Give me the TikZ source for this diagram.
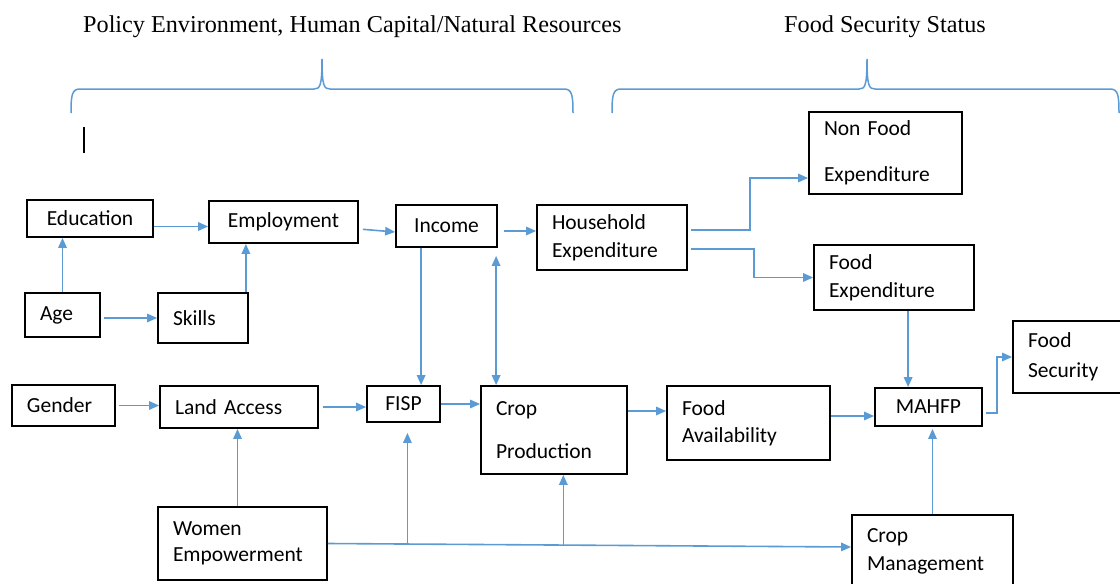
\documentclass[tikz,border=0pt]{standalone}
\usepackage{fontspec}
\setmainfont{Liberation Serif}
\newfontfamily\calibri{Carlito}
\usepackage{tikz}
\usetikzlibrary{arrows.meta, positioning, calc}

\definecolor{arrowblue}{HTML}{5B9BD5}

\begin{document}
\begin{tikzpicture}[
  x=1pt, y=-1pt,
  >={Triangle[length=10pt,width=8.5pt]},
  box/.style={draw, line width=1.8pt, inner xsep=15pt, inner ysep=0pt, align=left,
    font=\calibri\fontsize{21.5}{28}\selectfont},
  arr/.style={->, draw=arrowblue, line width=1.6pt},
  brace/.style={draw=arrowblue, line width=1.5pt},
  head/.style={font=\fontsize{24.2}{28}\selectfont, inner sep=0pt, anchor=base west},
]
  \useasboundingbox (0,0) rectangle (1120,584);
  \clip (0,0) rectangle (1120,584);

  % headings and braces
  \node[head] (policyhead) at (83,32) {Policy Environment, Human Capital/Natural Resources};
  \node[head] (statushead) at (784,32) {Food Security Status};
  \draw[brace] (71,113) .. controls (71,95) and (72,89) .. (80,89) -- (314,89)
    .. controls (320,89) and (322,86) .. (322,59) .. controls (322,86) and (324,89) .. (330,89)
    -- (564,89) .. controls (572,89) and (573,95) .. (573,113);
  \draw[brace] (612,113) .. controls (612,95) and (613,89) .. (621,89) -- (859,89)
    .. controls (865,89) and (867,86) .. (867,59) .. controls (867,86) and (869,89) .. (875,89)
    -- (1110,89) .. controls (1118,89) and (1119,95) .. (1119,113);
  \draw[line width=1.3pt] (84,127) -- (84,153);

  % boxes
  \node[box, text width=96pt, align=center, minimum height=37pt] (edu) at (90,218.5) {Education};
  \node[box, text width=119pt, align=center, minimum height=42pt] (emp) at (283.5,222) {Employment};
  \node[box, text width=45pt, minimum height=44pt] (age) at (62.5,315) {Age};
  \node[box, text width=60pt, minimum height=50pt] (skills) at (203,318) {Skills};
  \node[box, text width=71pt, align=center, minimum height=42pt] (inc) at (446.5,226) {Income};
  \node[box, text width=120pt, minimum height=65pt] (hh) at (612,237.5) {Household\\Expenditure};
  \node[box, text width=123pt, minimum height=82pt] (nonfood) at (885.5,153) {Non Food\\[18pt]Expenditure};
  \node[box, text width=130pt, minimum height=65pt] (foodexp) at (894,277.5) {Food\\Expenditure};
  \node[box, text width=73pt, minimum height=41pt] (gender) at (63.5,405.5) {Gender};
  \node[box, text width=128pt, minimum height=42pt] (land) at (239,407) {Land Access};
  \node[box, text width=43pt, align=center, minimum height=36pt] (fisp) at (403.5,404) {FISP};
  \node[box, text width=116pt, minimum height=88pt] (crop) at (554,430) {Crop\\[15pt]Production};
  \node[box, text width=133pt, minimum height=74pt] (avail) at (748.5,423) {Food\\[-1pt]Availability};
  \node[box, text width=139pt, minimum height=73pt] (women) at (242.5,543.5) {Women\\[-2pt]Empowerment};
  \node[box, text width=77pt, align=center, minimum height=38pt] (mahfp) at (928.5,407) {MAHFP};
  \node[box, text width=100pt, minimum height=72pt] (foodsec) at (1078,357) {Food\\[2pt]Security};
  \node[box, text width=131pt, minimum height=72pt] (cropman) at (932.5,551) {Crop\\Management};

  % connectors
  \draw[arr] ([yshift=-8pt]edu.east) -- ([yshift=-8pt]edu.east -| emp.west);
  \draw[arr] (age.north) -- (age.north |- edu.south);
  \draw[arr, shorten <=3pt] (age.east |- skills.west) -- (skills.west);
  \draw[arr] ([xshift=-3pt]skills.north east) -- ([xshift=-3pt]skills.north east |- emp.south);
  \draw[arr, shorten <=4pt] ([yshift=-7pt]emp.east) -- ([yshift=-6pt]inc.west);
  \draw[arr, shorten <=6pt] ([yshift=-5pt]inc.east) -- ([yshift=-5pt]inc.east -| hh.west);
  \draw[arr] ([xshift=26pt]inc.south west) -- ([xshift=26pt]inc.south west |- fisp.north);
  \draw[arr, <->, shorten >=8pt] ([xshift=16pt]crop.north west) -- ([xshift=16pt]crop.north west |- inc.south);
  \draw[arr, shorten <=3pt] ([yshift=7.5pt]hh.east) -| ([xshift=-58pt,yshift=-25pt]nonfood.west) -- ([yshift=-25pt]nonfood.west);
  \draw[arr, shorten <=3pt] ([yshift=-11.5pt]hh.east) -| ([xshift=-59pt]foodexp.west) -- (foodexp.west);
  \draw[arr] ([xshift=95pt]foodexp.south west) -- ([xshift=95pt]foodexp.south west |- mahfp.north);
  \draw[arr, shorten <=3pt] (gender.east) -- (gender.east -| land.west);
  \draw[arr, shorten <=4pt] (land.east) -- (land.east -| fisp.west);
  \draw[arr] (fisp.east) -- (fisp.east -| crop.west);
  \draw[arr] ([yshift=19pt]crop.east) -- ([yshift=19pt]crop.east -| avail.west);
  \draw[arr] ([yshift=7pt]avail.east) -- ([yshift=7pt]avail.east -| mahfp.west);
  \draw[arr, shorten <=3pt] ([yshift=-6pt]mahfp.east) -| ([xshift=-15pt]foodsec.west) -- (foodsec.west);
  \draw[arr, shorten >=2pt] (cropman.north) -- (cropman.north |- mahfp.south);
  \draw[arr] ([xshift=-5pt]women.north) -- ([xshift=-5pt]women.north |- land.south);
  \draw[arr] (women.east) -- coordinate[pos=0.152] (tofisp) coordinate[pos=0.45] (tocrop) ([yshift=4pt]cropman.west);
  \draw[arr, shorten >=10pt] (tofisp) -- (tofisp |- fisp.south);
  \draw[arr] (tocrop) -- (tocrop |- crop.south);
\end{tikzpicture}
\end{document}
